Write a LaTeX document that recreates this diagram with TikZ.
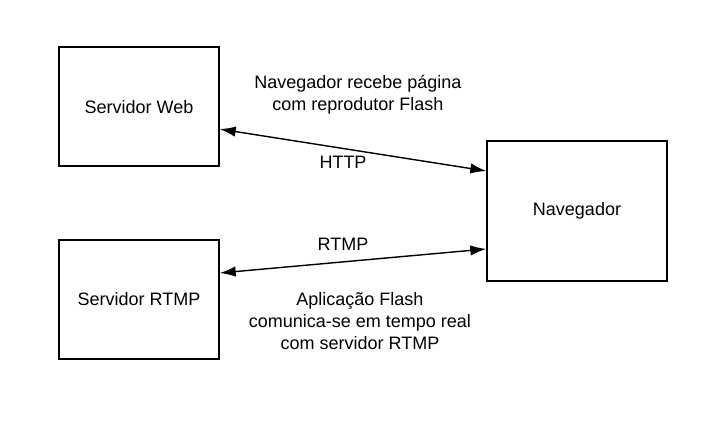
\documentclass[tikz,border=0pt]{standalone}
\usepackage{fontspec}
\setmainfont{Liberation Sans}
\usetikzlibrary{arrows.meta}
\begin{document}
\begin{tikzpicture}
		\tikzstyle{server} = [rectangle, draw=black, line width=1pt, minimum width=4cm, minimum height=2.975cm, inner sep=0pt]
		\tikzstyle{label} = [align=center, font=\fontsize{12.8}{15.6}\selectfont]
		\tikzstyle{link} = [<->, >={Latex[length=4mm,width=2.6mm]}, line width=1pt]
		\useasboundingbox (0,0) rectangle (18.1,10.575);
		\node [server, label] (W) at (3.475,7.91) {Servidor Web};
		\node [server, label] (R) at (3.475,3.0875) {Servidor RTMP};
		\node [server, label, minimum width=4.5cm, minimum height=3.5cm] (N) at (14.425,5.3) {Navegador};
		\node [label] (T) at (8.95,8.2) {Navegador recebe página\\com reprodutor Flash};
		\node [label] (H) at (8.575,6.525) {HTTP};
		\node [label] (M) at (8.575,4.475) {RTMP};
		\node [label] (A) at (9.0,2.55) {Aplicação Flash\\comunica-se em tempo real\\com servidor RTMP};
		\draw [link] ([yshift=-0.5625cm]W.east) to ([yshift=1cm]N.west);
		\draw [link] ([yshift=0.6625cm]R.east) to ([yshift=-0.95cm]N.west);
	\end{tikzpicture}
\end{document}
